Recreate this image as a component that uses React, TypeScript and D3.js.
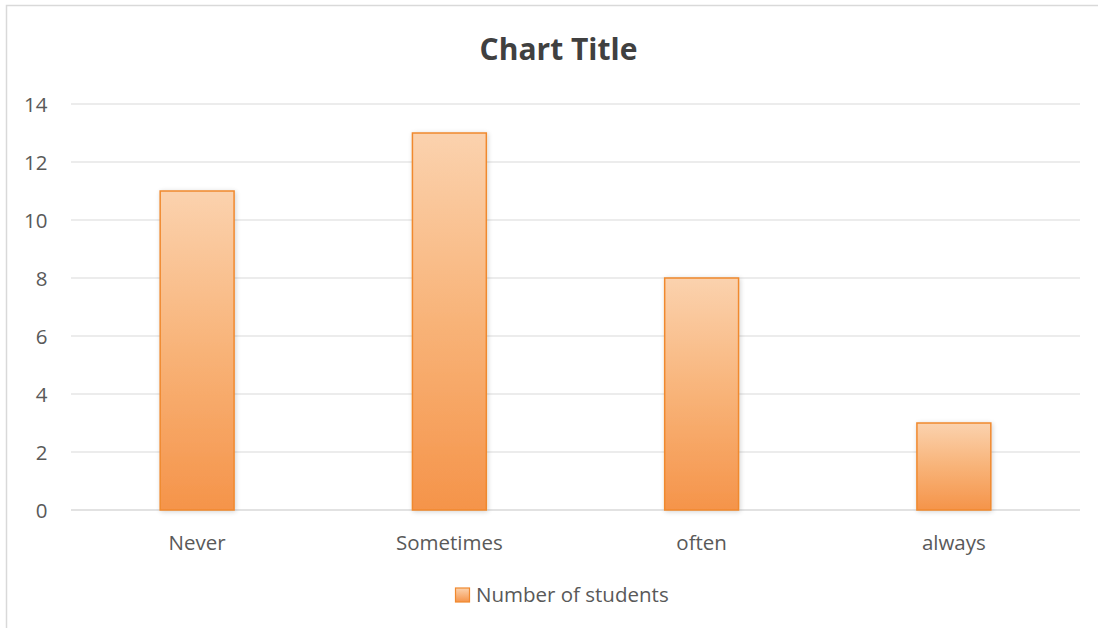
import React from "react";
import * as d3 from "d3";

const categories = ["Never", "Sometimes", "often", "always"];
const values = [11, 13, 8, 3];
const yTicks = [0, 2, 4, 6, 8, 10, 12, 14];
const seriesName = "Number of students";
const title = "Chart Title";

const W = 1098;
const H = 628;
const plot = { left: 71, right: 1080, top: 104, bottom: 510 };
const FONT = "'Open Sans', 'Noto Sans', 'Liberation Sans', sans-serif";

export default function App() {
  const x = d3
    .scaleBand<string>()
    .domain(categories)
    .range([plot.left, plot.right])
    .paddingInner(0.707)
    .paddingOuter(0.3535);
  const y = d3.scaleLinear().domain([0, 14]).range([plot.bottom, plot.top]);

  return (
    <svg
      width={W}
      height={H}
      style={{ position: "absolute", left: 0, top: 0, background: "#fff" }}
    >
      <defs>
        <linearGradient id="barGrad" x1="0" y1="0" x2="0" y2="1">
          <stop offset="0%" stopColor="#FBD2AE" />
          <stop offset="50%" stopColor="#F8B378" />
          <stop offset="100%" stopColor="#F5944A" />
        </linearGradient>
        <linearGradient id="legGrad" x1="0" y1="0" x2="0" y2="1">
          <stop offset="0%" stopColor="#FBD2AE" />
          <stop offset="100%" stopColor="#F5944A" />
        </linearGradient>
        <filter id="shadow" x="-20%" y="-10%" width="140%" height="120%">
          <feGaussianBlur in="SourceAlpha" stdDeviation="2.5" />
          <feOffset dx="1" dy="1" result="b" />
          <feComponentTransfer>
            <feFuncA type="linear" slope="0.18" />
          </feComponentTransfer>
          <feMerge>
            <feMergeNode />
            <feMergeNode in="SourceGraphic" />
          </feMerge>
        </filter>
      </defs>
      <rect x={6.5} y={5.5} width={W} height={H} fill="#fff" stroke="#d9d9d9" strokeWidth={1.5} />
      <text
        x={558.5}
        y={60}
        textAnchor="middle"
        fontFamily={FONT}
        fontWeight="bold"
        fontSize={30}
        fill="#404040"
      >
        {title}
      </text>
      {yTicks.map((t) => (
        <g key={t}>
          <line
            x1={plot.left}
            x2={plot.right}
            y1={y(t)}
            y2={y(t)}
            stroke="#d9d9d9"
            strokeWidth={t === 0 ? 1.5 : 1.2}
          />
          <text
            x={47.5}
            y={y(t) + 7.5}
            textAnchor="end"
            fontFamily={FONT}
            fontSize={20.5}
            fill="#595959"
          >
            {t}
          </text>
        </g>
      ))}
      {categories.map((c, i) => (
        <g key={c}>
          <rect
            x={x(c)!}
            y={y(values[i])}
            width={x.bandwidth()}
            height={y(0) - y(values[i])}
            fill="url(#barGrad)"
            stroke="#F0892E"
            strokeWidth={1.5}
            filter="url(#shadow)"
          />
          <text
            x={x(c)! + x.bandwidth() / 2}
            y={550}
            textAnchor="middle"
            fontFamily={FONT}
            fontSize={20.5}
            fill="#595959"
          >
            {c}
          </text>
        </g>
      ))}
      <rect
        x={455.5}
        y={588}
        width={14}
        height={14}
        fill="url(#legGrad)"
        stroke="#F0892E"
        strokeWidth={1.2}
      />
      <text x={476} y={601.5} fontFamily={FONT} fontSize={20.5} fill="#595959">
        {seriesName}
      </text>
    </svg>
  );
}
